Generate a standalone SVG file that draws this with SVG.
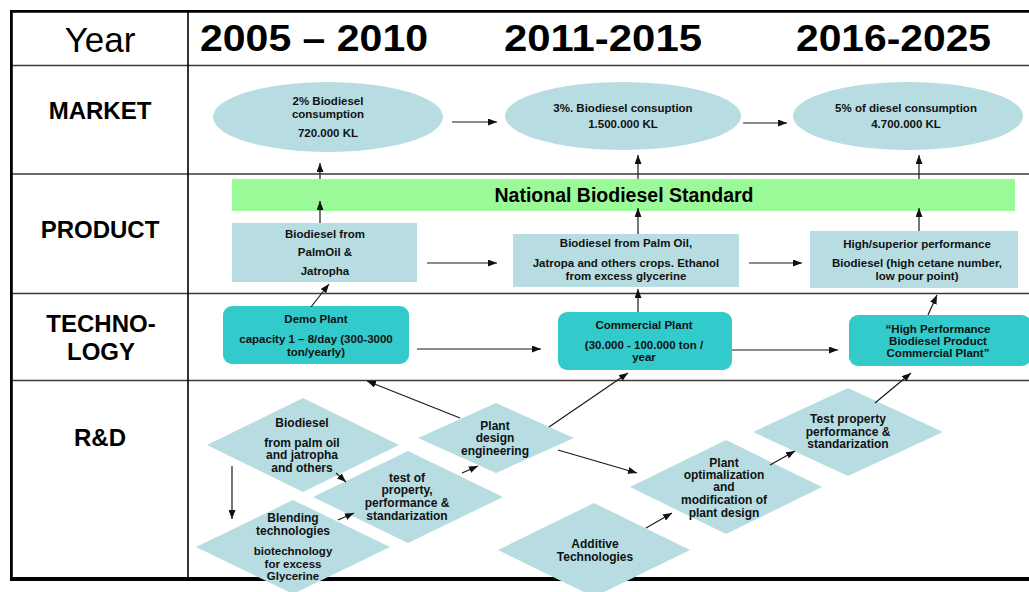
<svg xmlns="http://www.w3.org/2000/svg" width="1029" height="592" viewBox="0 0 1029 592">
  <style>
    .hdr { font-family: "Liberation Sans", Arial, sans-serif; fill: #000; }
    .yr { font-size: 36px; font-weight: bold; }
    .row { font-size: 24px; font-weight: bold; text-anchor: middle; }
    .t { font-family: "Liberation Sans", Arial, sans-serif; font-size: 11.5px; font-weight: bold; fill: #111; text-anchor: middle; }
    .dt { font-family: "Liberation Sans", Arial, sans-serif; font-size: 12px; font-weight: bold; fill: #111; text-anchor: middle; }
    .sm { font-size: 11.5px; }
    .soft { fill: #B7DDE3; }
    .teal { fill: #33CACB; }
    .grid { stroke: #3a3a3a; stroke-width: 1.6; fill: none; }
    .edge { stroke: #000; fill: none; }
    .arr { stroke: #1a1a1a; stroke-width: 1.2; fill: none; marker-end: url(#ah); }
  </style>
  <defs>
    <marker id="ah" markerUnits="userSpaceOnUse" markerWidth="9" markerHeight="7" refX="9" refY="3.5" orient="auto">
      <path d="M0,0 L9,3.5 L0,7 z" fill="#111"/>
    </marker>
  </defs>

  <rect width="1029" height="592" fill="#fff"/>

  <!-- table frame -->
  <g id="frame">
    <line class="grid" x1="12" y1="65.5" x2="1029" y2="65.5"/>
    <line class="grid" x1="12" y1="174" x2="1029" y2="174"/>
    <line class="grid" x1="12" y1="293.5" x2="1029" y2="293.5"/>
    <line class="grid" x1="12" y1="380.5" x2="1029" y2="380.5"/>
    <line class="edge" stroke-width="1.6" x1="188" y1="12" x2="188" y2="578"/>
    <line class="edge" stroke-width="2.8" x1="10" y1="11.4" x2="1029" y2="11.4"/>
    <line class="edge" stroke-width="2.8" x1="11.4" y1="10" x2="11.4" y2="581"/>
    <line class="edge" stroke-width="4" x1="10" y1="579" x2="1029" y2="579"/>
  </g>

  <!-- column and row headings -->
  <g id="headings" class="hdr">
    <text x="100" y="52" font-size="35" text-anchor="middle">Year</text>
    <text class="yr" x="200" y="51" textLength="228" lengthAdjust="spacingAndGlyphs">2005 – 2010</text>
    <text class="yr" x="504" y="51" textLength="198" lengthAdjust="spacingAndGlyphs">2011-2015</text>
    <text class="yr" x="796" y="51" textLength="195" lengthAdjust="spacingAndGlyphs">2016-2025</text>
    <text class="row" x="100" y="119">MARKET</text>
    <text class="row" x="100" y="238">PRODUCT</text>
    <text class="row" x="101" y="332">TECHNO-</text>
    <text class="row" x="101" y="360">LOGY</text>
    <text class="row" x="100" y="446">R&amp;D</text>
  </g>

  <!-- market -->
  <g id="market-2005">
    <ellipse class="soft" cx="328" cy="117" rx="115" ry="35"/>
    <text class="t" x="328" y="105">2% Biodiesel</text>
    <text class="t" x="328" y="118">consumption</text>
    <text class="t" x="328" y="137">720.000 KL</text>
  </g>
  <g id="market-2011">
    <ellipse class="soft" cx="623" cy="116" rx="118" ry="34"/>
    <text class="t" x="623" y="112">3%. Biodiesel consuption</text>
    <text class="t" x="623" y="128">1.500.000 KL</text>
  </g>
  <g id="market-2016">
    <ellipse class="soft" cx="908" cy="116" rx="115" ry="34"/>
    <text class="t" x="906" y="112">5% of diesel consumption</text>
    <text class="t" x="906" y="128">4.700.000 KL</text>
  </g>

  <!-- standard bar -->
  <g id="standard">
    <rect x="232" y="179" width="783" height="32" fill="#9BFA98"/>
    <text class="hdr" x="624" y="202" font-size="19.5" font-weight="bold" text-anchor="middle">National Biodiesel Standard</text>
  </g>

  <!-- products -->
  <g id="product-2005">
    <rect class="soft" x="232" y="223" width="185" height="59"/>
    <text class="t" x="325" y="238">Biodiesel from</text>
    <text class="t" x="325" y="256">PalmOil  &amp;</text>
    <text class="t" x="325" y="275">Jatropha</text>
  </g>
  <g id="product-2011">
    <rect class="soft" x="513" y="234" width="226" height="53"/>
    <text class="t" x="626" y="247">Biodiesel from Palm Oil,</text>
    <text class="t" x="626" y="267">Jatropa and others crops. Ethanol</text>
    <text class="t" x="626" y="280">from excess glycerine</text>
  </g>
  <g id="product-2016">
    <rect class="soft" x="810" y="231" width="208" height="57"/>
    <text class="t" x="917" y="248">High/superior performance</text>
    <text class="t" x="917" y="267">Biodiesel (high cetane number,</text>
    <text class="t" x="917" y="280">low pour point)</text>
  </g>

  <!-- technology -->
  <g id="tech-demo">
    <rect class="teal" x="223" y="306" width="186" height="58" rx="9"/>
    <text class="t" x="316" y="323">Demo Plant</text>
    <text class="t" x="316" y="343">capacity 1 – 8/day (300-3000</text>
    <text class="t" x="316" y="356">ton/yearly)</text>
  </g>
  <g id="tech-commercial">
    <rect class="teal" x="558" y="312" width="174" height="58" rx="9"/>
    <text class="t" x="644" y="329">Commercial Plant</text>
    <text class="t" x="644" y="349">(30.000 - 100.000 ton /</text>
    <text class="t" x="644" y="361">year</text>
  </g>
  <g id="tech-high">
    <rect class="teal" x="849" y="315" width="182" height="51" rx="9"/>
    <text class="t" x="938" y="333">“High Performance</text>
    <text class="t" x="938" y="345">Biodiesel Product</text>
    <text class="t" x="938" y="357">Commercial Plant”</text>
  </g>

  <!-- research and development -->
  <g id="rd-biodiesel">
    <polygon class="soft" points="207,445 303,398 399,445 303,492"/>
    <text class="dt" x="302" y="427">Biodiesel</text>
    <text class="dt" x="302" y="447">from palm oil</text>
    <text class="dt" x="302" y="459">and jatropha</text>
    <text class="dt" x="302" y="472">and others</text>
  </g>
  <g id="rd-test">
    <polygon class="soft" points="313,497 408,451 503,497 408,543"/>
    <text class="dt" x="407" y="482">test of</text>
    <text class="dt" x="407" y="494">property,</text>
    <text class="dt" x="407" y="507">performance &amp;</text>
    <text class="dt" x="407" y="520">standarization</text>
  </g>
  <g id="rd-blending">
    <polygon class="soft" points="196,547 293,500 390,547 293,594"/>
    <text class="dt" x="293" y="522">Blending</text>
    <text class="dt" x="293" y="535">technologies</text>
    <text class="dt sm" x="293" y="555">biotechnology</text>
    <text class="dt sm" x="293" y="567.5">for excess</text>
    <text class="dt sm" x="293" y="580">Glycerine</text>
  </g>
  <g id="rd-design">
    <polygon class="soft" points="418,438 496,403 574,438 496,473"/>
    <text class="dt" x="495" y="430">Plant</text>
    <text class="dt" x="495" y="442">design</text>
    <text class="dt" x="495" y="455">engineering</text>
  </g>
  <g id="rd-additive">
    <polygon class="soft" points="498,550 594,503 690,550 594,597"/>
    <text class="dt" x="595" y="548">Additive</text>
    <text class="dt" x="595" y="561">Technologies</text>
  </g>
  <g id="rd-optimal">
    <polygon class="soft" points="630,487 726,440 822,487 726,534"/>
    <text class="dt" x="724" y="467">Plant</text>
    <text class="dt" x="724" y="479">optimalization</text>
    <text class="dt" x="724" y="491">and</text>
    <text class="dt" x="724" y="504">modification of</text>
    <text class="dt" x="724" y="517">plant design</text>
  </g>
  <g id="rd-property">
    <polygon class="soft" points="753,432 848,388 943,432 848,476"/>
    <text class="dt" x="848" y="423">Test  property</text>
    <text class="dt" x="848" y="436">performance &amp;</text>
    <text class="dt" x="848" y="448">standarization</text>
  </g>

  <!-- connectors -->
  <g id="connectors">
    <line class="arr" x1="452" y1="122" x2="497" y2="122"/>
    <line class="arr" x1="743" y1="123" x2="787" y2="123"/>
    <line class="arr" x1="320" y1="179" x2="320" y2="163"/>
    <line class="arr" x1="638" y1="179" x2="638" y2="155"/>
    <line class="arr" x1="919" y1="179" x2="919" y2="155"/>
    <line class="arr" x1="320" y1="223" x2="320" y2="201"/>
    <line class="arr" x1="638" y1="234" x2="638" y2="208"/>
    <line class="arr" x1="919" y1="231" x2="919" y2="208"/>
    <line class="arr" x1="427" y1="263" x2="497" y2="263"/>
    <line class="arr" x1="749" y1="263" x2="802" y2="263"/>
    <line class="arr" x1="311" y1="307" x2="329" y2="284"/>
    <line class="arr" x1="638" y1="312" x2="638" y2="289"/>
    <line class="arr" x1="928" y1="315" x2="937" y2="295"/>
    <line class="arr" x1="417" y1="349" x2="541" y2="349"/>
    <line class="arr" x1="732" y1="350" x2="838" y2="350"/>
    <line class="arr" x1="460" y1="418" x2="367" y2="381"/>
    <line class="arr" x1="549" y1="427" x2="628" y2="373"/>
    <line class="arr" x1="875" y1="403" x2="911" y2="373"/>
    <line class="arr" x1="232" y1="466" x2="232" y2="519"/>
    <line class="arr" x1="336" y1="473" x2="346" y2="482"/>
    <line class="arr" x1="338" y1="520" x2="354" y2="513"/>
    <line class="arr" x1="462" y1="473" x2="478" y2="466"/>
    <line class="arr" x1="558" y1="450" x2="637" y2="473"/>
    <line class="arr" x1="646" y1="528" x2="672" y2="513"/>
    <line class="arr" x1="770" y1="465" x2="795" y2="451"/>
  </g>
</svg>
